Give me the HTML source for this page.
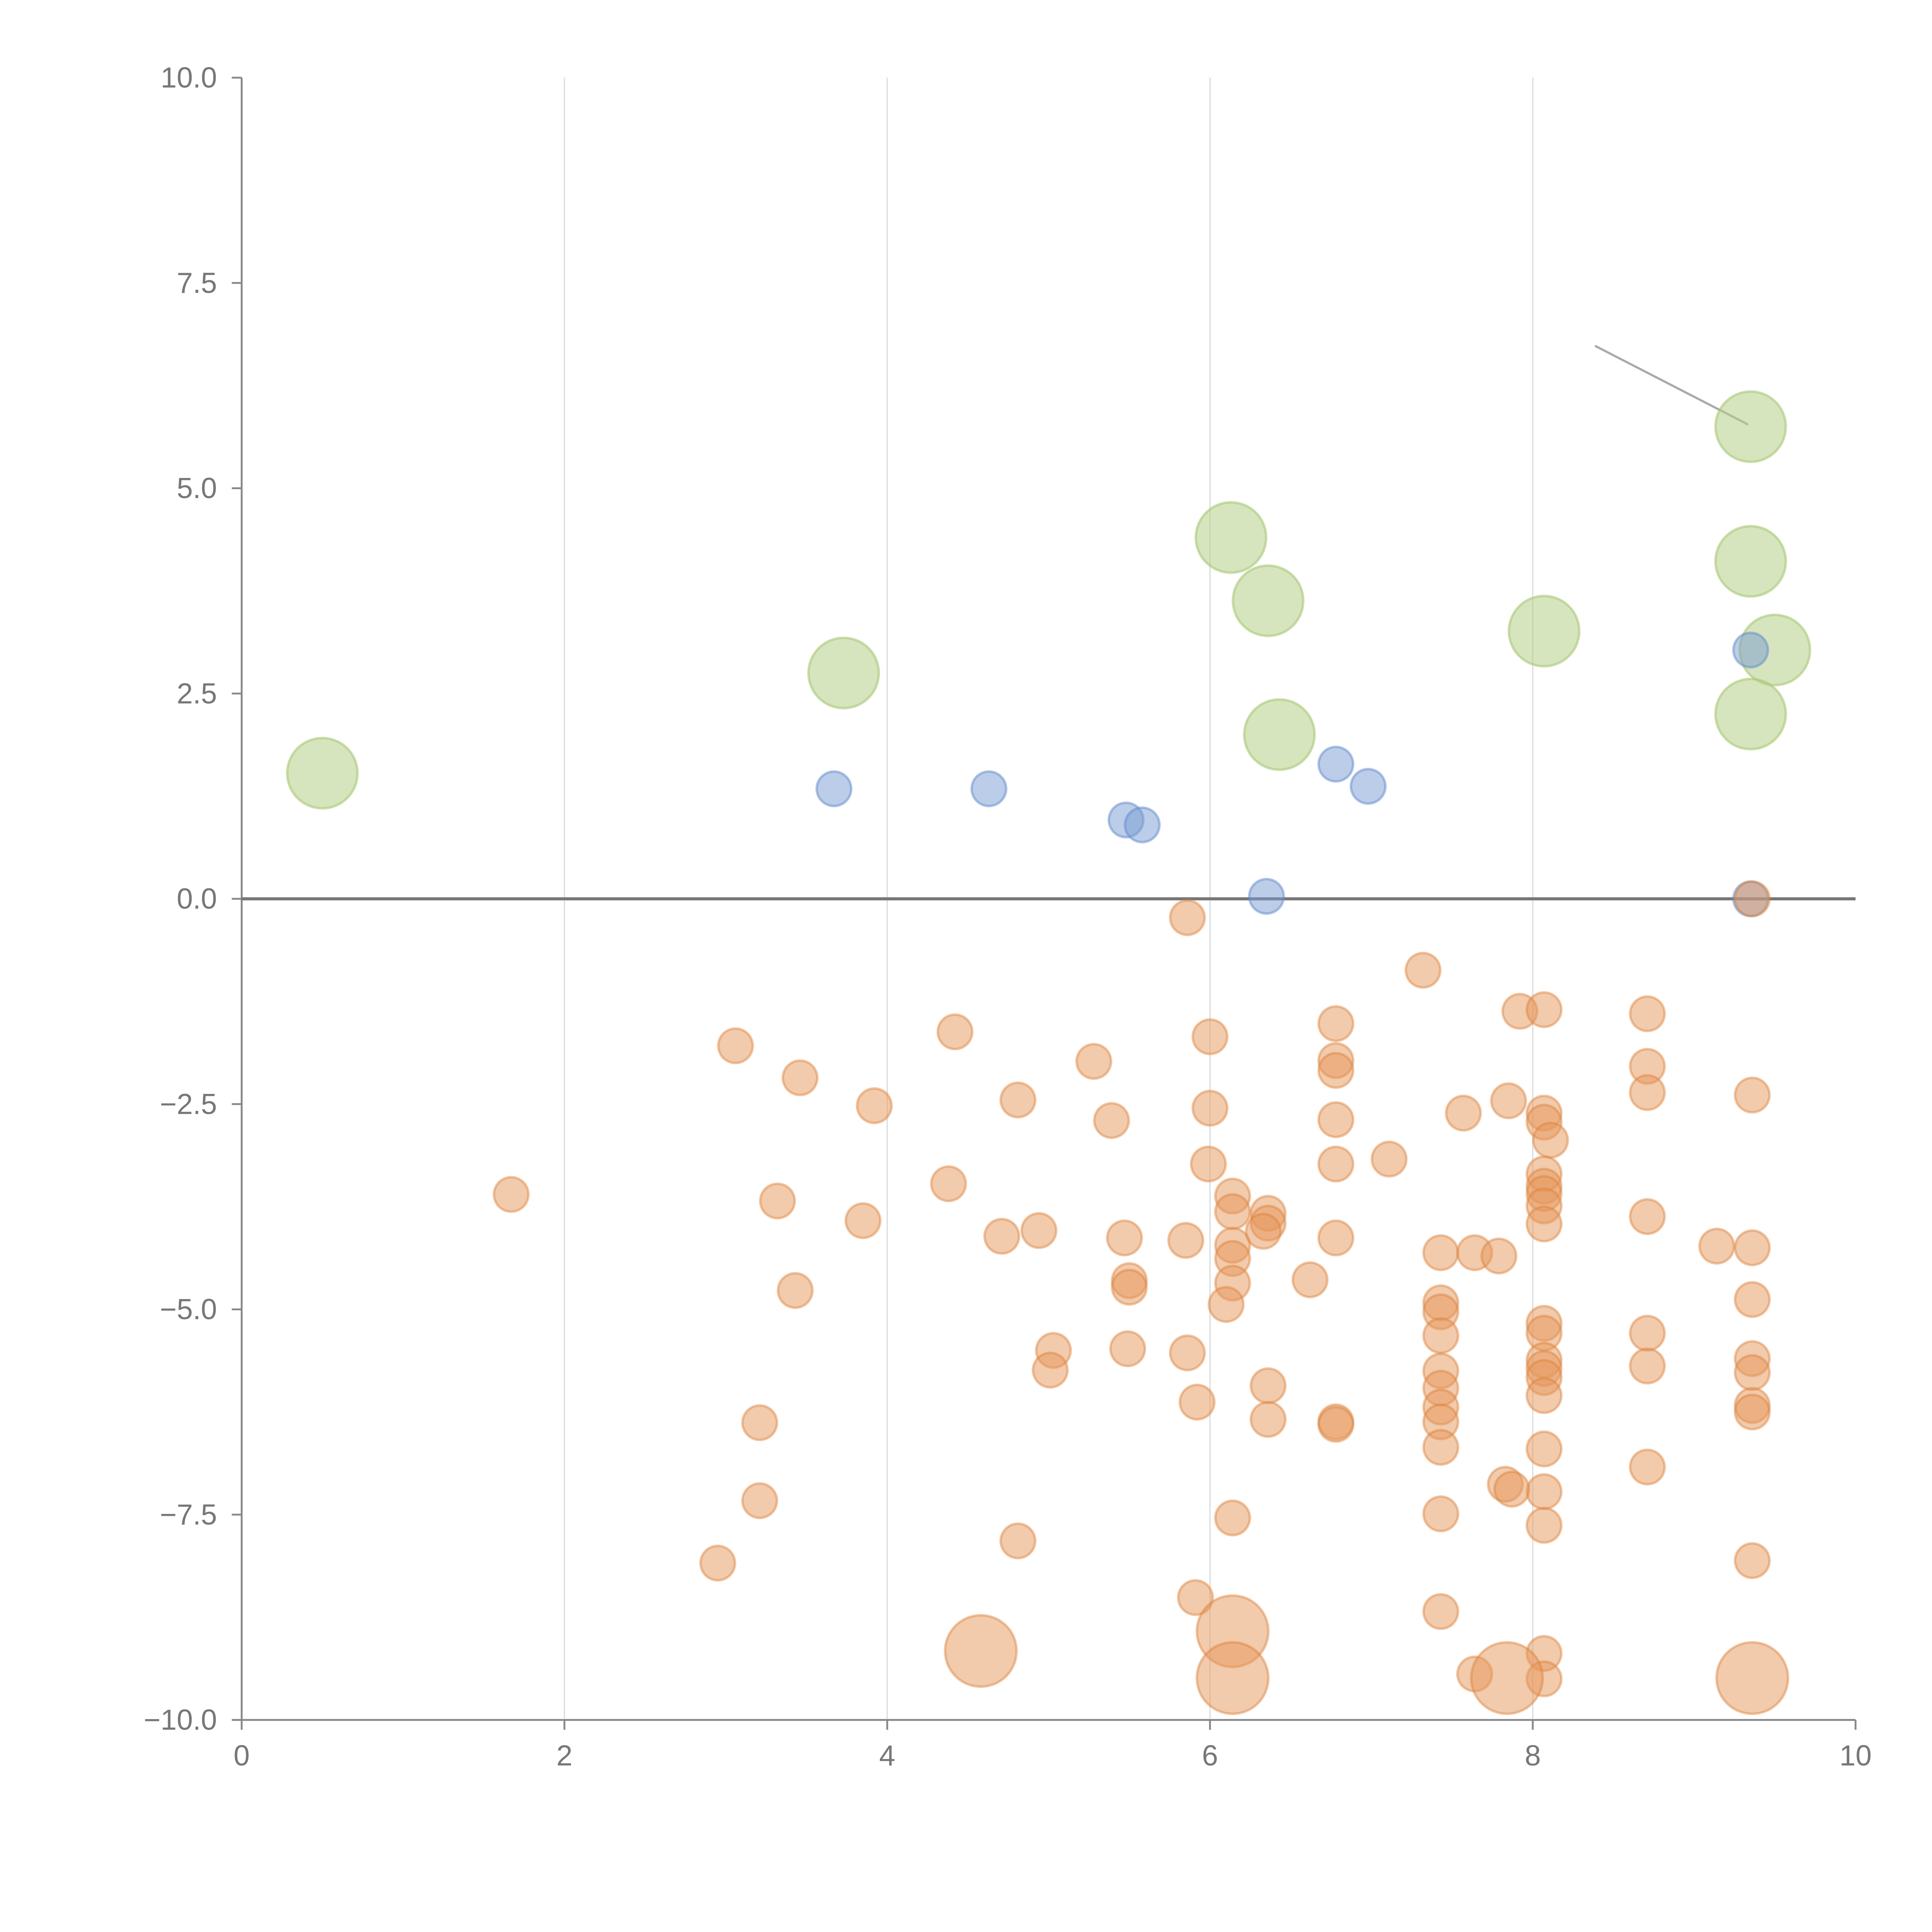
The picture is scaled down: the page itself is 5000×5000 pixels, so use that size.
<!DOCTYPE html>
<html><head><meta charset="utf-8">
<style>
html,body{margin:0;padding:0;background:#fff;}
svg{display:block;}
text{font-family:"Liberation Sans",Arial,sans-serif;fill:#777;}
</style></head>
<body>
<svg id="chart" width="5000" height="5000" viewBox="0 0 1567 1567" xmlns="http://www.w3.org/2000/svg">
<g id="grid"></g>
<g id="axes"></g>
<g id="marks"></g>
</svg>
<script>
const xTicks = [0, 2, 4, 6, 8, 10];
const xTickLabels = ["0", "2", "4", "6", "8", "10"];
const yTicks = [-10, -7.5, -5, -2.5, 0, 2.5, 5, 7.5, 10];
const yTickLabels = ["\u221210.0", "\u22127.5", "\u22125.0", "\u22122.5", "0.0", "2.5", "5.0", "7.5", "10.0"];

const greenX = [0.50, 3.73, 6.13, 6.36, 6.43, 8.07, 9.35, 9.35, 9.50, 9.35];
const greenY = [1.53, 2.75, 4.40, 3.63, 2.00, 3.26, 5.75, 4.11, 3.03, 2.25];

const blueX = [3.67, 4.63, 5.48, 5.58, 6.78, 6.98, 6.35, 9.35, 9.35];
const blueY = [1.34, 1.34, 0.96, 0.90, 1.64, 1.37, 0.03, 3.03, 0.00];

const orangeX = [5.86,7.32,3.06,3.46,3.92,4.42,4.81,5.28,5.39,6.00,6.00,5.99,6.78,6.78,6.78,6.78,6.78,7.11,7.57,7.85,7.92,8.07,8.07,8.07,8.11,8.07,8.07,8.07,8.07,8.07,8.71,8.71,8.71,8.71,9.36,1.67,3.32,3.85,4.38,4.71,4.94,5.47,5.85,6.14,6.14,6.14,6.14,6.14,6.36,6.36,6.33,6.78,6.62,3.43,5.50,5.50,6.10,7.43,7.64,7.79,7.43,7.43,7.43,7.43,7.43,7.43,7.43,7.43,7.43,7.43,8.07,8.07,8.07,8.07,8.07,8.07,8.07,8.07,8.07,8.07,8.07,8.71,8.71,8.71,9.14,9.36,9.36,9.36,9.36,9.36,9.36,9.36,5.03,5.01,5.49,5.86,5.92,6.36,6.36,6.78,6.78,3.21,3.21,2.95,4.81,6.14,7.83,7.87,5.91,7.64,9.36];
const orangeY = [-0.23,-0.87,-1.79,-2.18,-2.52,-1.62,-2.45,-1.98,-2.70,-1.68,-2.55,-3.23,-1.52,-1.97,-2.09,-2.69,-3.23,-3.17,-2.61,-2.46,-1.37,-1.35,-2.61,-2.72,-2.94,-3.35,-3.50,-3.59,-3.74,-3.96,-1.40,-2.04,-2.36,-3.87,-2.39,-3.60,-3.68,-3.92,-3.47,-4.11,-4.04,-4.13,-4.16,-3.62,-3.81,-4.22,-4.38,-4.68,-3.83,-3.95,-4.05,-4.13,-4.64,-4.77,-4.65,-4.73,-4.94,-4.31,-4.31,-4.35,-4.92,-5.03,-5.32,-5.75,-5.96,-6.19,-6.37,-6.68,-7.49,-8.68,-5.17,-5.29,-5.62,-5.72,-5.83,-6.05,-6.70,-7.22,-7.63,-9.19,-9.50,-5.29,-5.69,-6.92,-4.23,-4.25,-4.88,-5.60,-5.77,-6.17,-6.25,-8.06,-5.50,-5.74,-5.48,-5.53,-6.13,-5.93,-6.34,-6.37,-6.40,-6.38,-7.33,-8.09,-7.82,-7.54,-7.13,-7.19,-8.51,-9.44,0.00];

const orangeBigX = [4.58, 6.14, 6.14, 7.84, 9.36];
const orangeBigY = [-9.16, -8.92, -9.49, -9.49, -9.49];

const connectorX = [8.39, 9.33];
const connectorY = [6.73, 5.78];

const X0 = 196, X1 = 1505, Y0 = 1395, Y1 = 63;
function xs(v){ return X0 + (v - 0) / 10 * (X1 - X0); }
function ys(v){ return Y0 - (v + 10) / 20 * (Y0 - Y1); }

const NS = "http://www.w3.org/2000/svg";
function mk(tag, attrs, parent){
  const el = document.createElementNS(NS, tag);
  for (const k in attrs) el.setAttribute(k, attrs[k]);
  parent.appendChild(el);
  return el;
}
const grid = document.getElementById('grid');
const axes = document.getElementById('axes');
const marks = document.getElementById('marks');

xTicks.forEach((t, i) => {
  if (t === 0 || t === 10) return;
  const l = mk('line', {x1: xs(t), x2: xs(t), y1: Y1, y2: Y0, stroke: '#dcdcdc', 'stroke-width': 1}, grid);
  
  
});

const ya = mk('line', {x1: X0, x2: X0, y1: Y1, y2: Y0, stroke: '#888', 'stroke-width': 1.5}, axes);


const xa = mk('line', {x1: X0, x2: X1, y1: Y0, y2: Y0, stroke: '#888', 'stroke-width': 1.5}, axes);



yTicks.forEach((t, i) => {
  const tk = mk('line', {x1: X0 - 8, x2: X0, y1: ys(t), y2: ys(t), stroke: '#888', 'stroke-width': 1.5}, axes);
  
  
  const tx = mk('text', {x: X0 - 20, y: ys(t) + 8, 'text-anchor': 'end', 'font-size': 23.5}, axes);
  tx.textContent = yTickLabels[i];
  
  
});
xTicks.forEach((t, i) => {
  const tk = mk('line', {x1: xs(t), x2: xs(t), y1: Y0, y2: Y0 + 8, stroke: '#888', 'stroke-width': 1.5}, axes);
  
  
  const tx = mk('text', {x: xs(t), y: Y0 + 37, 'text-anchor': 'middle', 'font-size': 23.5}, axes);
  tx.textContent = xTickLabels[i];
  
  
});

const zl = mk('line', {x1: X0, x2: X1, y1: ys(0), y2: ys(0), stroke: '#777', 'stroke-width': 2.5}, axes);



const cl = mk('line', {x1: xs(connectorX[0]), y1: ys(connectorY[0]), x2: xs(connectorX[1]), y2: ys(connectorY[1]), stroke: '#aaa', 'stroke-width': 1.8, 'stroke-linecap': 'round'}, marks);



greenX.forEach((v, i) => {
  const c = mk('circle', {cx: xs(v), cy: ys(greenY[i]), r: 28.5, fill: 'rgba(180,208,135,0.55)', stroke: 'rgba(170,200,120,0.6)', 'stroke-width': 2}, marks);
  
  
});
blueX.forEach((v, i) => {
  const c = mk('circle', {cx: xs(v), cy: ys(blueY[i]), r: 14, fill: 'rgba(120,155,210,0.5)', stroke: 'rgba(100,140,205,0.5)', 'stroke-width': 2}, marks);
  
  
});
orangeX.forEach((v, i) => {
  const c = mk('circle', {cx: xs(v), cy: ys(orangeY[i]), r: 14, fill: 'rgba(230,150,90,0.5)', stroke: 'rgba(220,130,60,0.45)', 'stroke-width': 2}, marks);
  
  
});
orangeBigX.forEach((v, i) => {
  const c = mk('circle', {cx: xs(v), cy: ys(orangeBigY[i]), r: 29, fill: 'rgba(230,150,90,0.5)', stroke: 'rgba(220,130,60,0.45)', 'stroke-width': 2}, marks);
  
  
});
</script>
</body></html>
